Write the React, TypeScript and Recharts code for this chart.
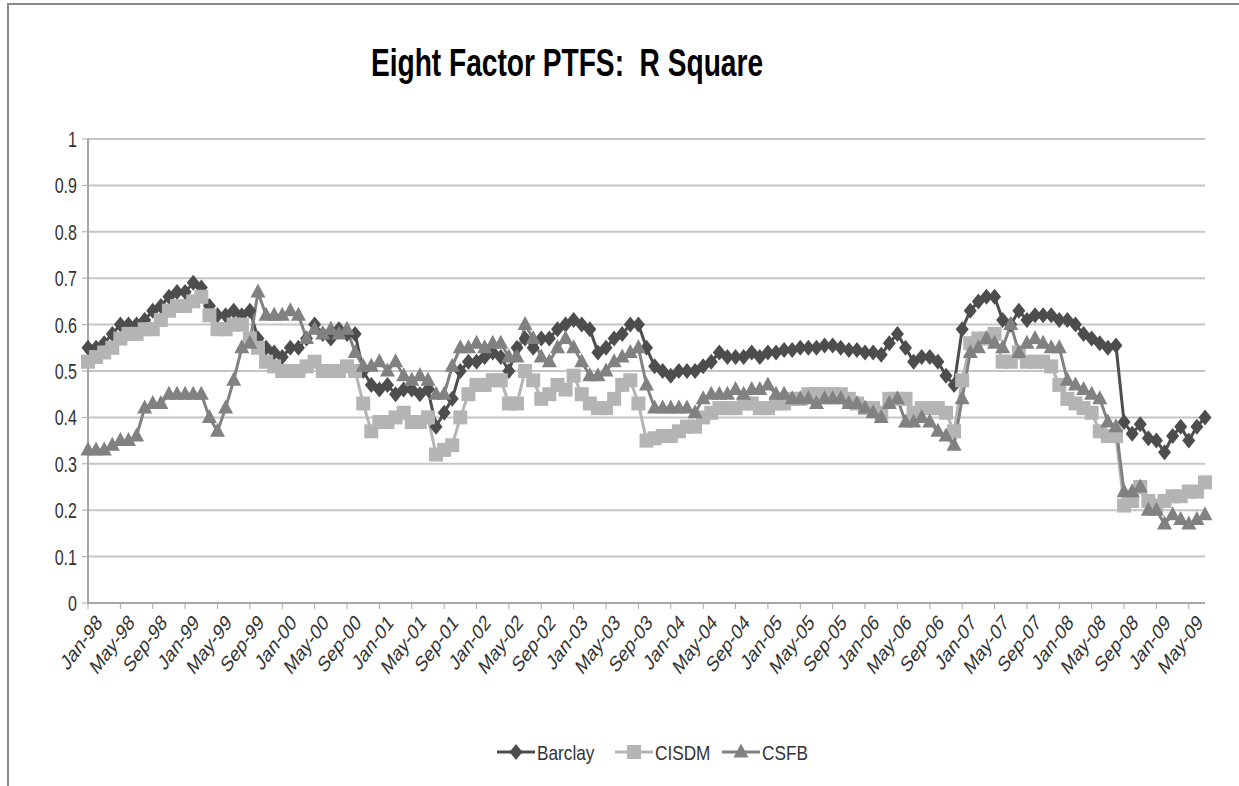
import React from 'react';
import { LineChart, Line, XAxis, YAxis, CartesianGrid } from 'recharts';

const monthNames = ['Jan', 'Feb', 'Mar', 'Apr', 'May', 'Jun', 'Jul', 'Aug', 'Sep', 'Oct', 'Nov', 'Dec'];
const yearLabels = ['98', '99', '00', '01', '02', '03', '04', '05', '06', '07', '08', '09'];
const monthCount = 139;

const categories: string[] = [];
yearLabels.forEach((y) => monthNames.forEach((m) => categories.push(`${m}-${y}`)));
categories.length = monthCount;

const barclay = [
  0.55, 0.55, 0.56, 0.58, 0.60, 0.60, 0.60, 0.61, 0.63, 0.64, 0.66, 0.67,
  0.67, 0.69, 0.68, 0.64, 0.62, 0.62, 0.63, 0.62, 0.63, 0.57, 0.55, 0.54,
  0.53, 0.55, 0.55, 0.57, 0.60, 0.58, 0.57, 0.59, 0.58, 0.58, 0.50, 0.47,
  0.46, 0.47, 0.45, 0.46, 0.46, 0.45, 0.46, 0.38, 0.41, 0.44, 0.50, 0.52,
  0.52, 0.53, 0.54, 0.53, 0.50, 0.55, 0.57, 0.55, 0.57, 0.57, 0.59, 0.60,
  0.61, 0.60, 0.59, 0.54, 0.55, 0.57, 0.58, 0.60, 0.60, 0.55, 0.51, 0.50,
  0.49, 0.50, 0.50, 0.50, 0.51, 0.52, 0.54, 0.53, 0.53, 0.53, 0.54, 0.53,
  0.54, 0.54, 0.545, 0.545, 0.55, 0.55, 0.55, 0.555, 0.555, 0.55, 0.545, 0.545,
  0.54, 0.54, 0.535, 0.56, 0.58, 0.55, 0.52, 0.53, 0.53, 0.52, 0.49, 0.47,
  0.59, 0.63, 0.65, 0.66, 0.66, 0.61, 0.60, 0.63, 0.61, 0.62, 0.62, 0.62,
  0.61, 0.61, 0.60, 0.58, 0.57, 0.56, 0.55, 0.555, 0.39, 0.365, 0.385, 0.355,
  0.35, 0.325, 0.36, 0.38, 0.35, 0.38, 0.40,
];

const cisdm = [
  0.52, 0.53, 0.54, 0.55, 0.57, 0.58, 0.58, 0.59, 0.59, 0.61, 0.63, 0.64,
  0.64, 0.65, 0.66, 0.62, 0.59, 0.59, 0.60, 0.60, 0.57, 0.55, 0.52, 0.51,
  0.50, 0.50, 0.50, 0.51, 0.52, 0.50, 0.50, 0.50, 0.51, 0.50, 0.43, 0.37,
  0.39, 0.39, 0.40, 0.41, 0.39, 0.39, 0.40, 0.32, 0.33, 0.34, 0.40, 0.45,
  0.47, 0.47, 0.48, 0.48, 0.43, 0.43, 0.50, 0.48, 0.44, 0.45, 0.47, 0.46,
  0.49, 0.45, 0.43, 0.42, 0.42, 0.44, 0.47, 0.48, 0.43, 0.35, 0.355, 0.36,
  0.36, 0.37, 0.38, 0.38, 0.40, 0.41, 0.42, 0.42, 0.42, 0.43, 0.43, 0.42,
  0.42, 0.43, 0.43, 0.44, 0.44, 0.45, 0.45, 0.45, 0.45, 0.45, 0.44, 0.43,
  0.42, 0.42, 0.41, 0.44, 0.44, 0.44, 0.41, 0.42, 0.42, 0.42, 0.41, 0.37,
  0.48, 0.56, 0.57, 0.57, 0.58, 0.52, 0.52, 0.54, 0.52, 0.52, 0.52, 0.51,
  0.47, 0.44, 0.43, 0.42, 0.41, 0.37, 0.36, 0.36, 0.21, 0.22, 0.25, 0.22,
  0.21, 0.22, 0.23, 0.23, 0.24, 0.24, 0.26,
];

const csfb = [
  0.33, 0.33, 0.33, 0.34, 0.35, 0.35, 0.36, 0.42, 0.43, 0.43, 0.45, 0.45,
  0.45, 0.45, 0.45, 0.40, 0.37, 0.42, 0.48, 0.55, 0.56, 0.67, 0.62, 0.62,
  0.62, 0.63, 0.62, 0.57, 0.59, 0.58, 0.59, 0.58, 0.59, 0.54, 0.51, 0.51,
  0.52, 0.50, 0.52, 0.49, 0.48, 0.49, 0.48, 0.45, 0.45, 0.51, 0.55, 0.55,
  0.56, 0.55, 0.56, 0.56, 0.53, 0.53, 0.60, 0.57, 0.53, 0.52, 0.55, 0.57,
  0.55, 0.52, 0.49, 0.49, 0.50, 0.52, 0.53, 0.54, 0.55, 0.47, 0.42, 0.42,
  0.42, 0.42, 0.42, 0.41, 0.44, 0.45, 0.45, 0.45, 0.46, 0.45, 0.46, 0.46,
  0.47, 0.45, 0.45, 0.44, 0.44, 0.44, 0.43, 0.44, 0.44, 0.44, 0.43, 0.43,
  0.42, 0.41, 0.40, 0.43, 0.44, 0.39, 0.39, 0.40, 0.39, 0.37, 0.36, 0.34,
  0.44, 0.54, 0.55, 0.57, 0.56, 0.55, 0.60, 0.54, 0.56, 0.57, 0.56, 0.55,
  0.55, 0.48, 0.47, 0.46, 0.45, 0.44, 0.39, 0.38, 0.24, 0.24, 0.25, 0.20,
  0.20, 0.17, 0.19, 0.18, 0.17, 0.18, 0.19,
];

const yTicks = [0, 0.1, 0.2, 0.3, 0.4, 0.5, 0.6, 0.7, 0.8, 0.9, 1];

const data = categories.map((c, i) => ({
  month: c,
  Barclay: barclay[i],
  CISDM: cisdm[i],
  CSFB: csfb[i],
}));

const FONT = "'Liberation Sans', Arial, sans-serif";
const TEXT = '#333';
const C_BARCLAY = '#4d4d4d';
const C_CISDM = '#b4b4b4';
const C_CSFB = '#818181';
const SQUEEZE = 0.75;

const Diamond = (props: any) => {
  const { cx, cy, fill } = props;
  if (cx == null || cy == null) return null;
  return <polygon points={`${cx},${cy - 8} ${cx + 6.5},${cy} ${cx},${cy + 8} ${cx - 6.5},${cy}`} fill={fill} />;
};
const Square = (props: any) => {
  const { cx, cy, fill } = props;
  if (cx == null || cy == null) return null;
  return <rect x={cx - 7} y={cy - 7} width={14} height={14} fill={fill} />;
};
const Triangle = (props: any) => {
  const { cx, cy, fill } = props;
  if (cx == null || cy == null) return null;
  return <polygon points={`${cx},${cy - 8.5} ${cx + 7.5},${cy + 5.5} ${cx - 7.5},${cy + 5.5}`} fill={fill} />;
};

const XTick = (props: any) => {
  const { x, y, payload } = props;
  return (
    <g transform={`translate(${x + 7} ${y + 2}) scale(${SQUEEZE} 1) rotate(-45)`}>
      <text x={0} y={0} dy="0.7em" textAnchor="end" fontFamily={FONT} fontSize={22} fill={TEXT}>
        {payload.value}
      </text>
    </g>
  );
};

const YTick = (props: any) => {
  const { x, y, payload } = props;
  return (
    <g transform={`translate(${x - 3} ${y}) scale(0.73 1)`}>
      <text x={0} y={0} dy="0.36em" textAnchor="end" fontFamily={FONT} fontSize={22} fill={TEXT}>
        {String(Math.round(payload.value * 10) / 10)}
      </text>
    </g>
  );
};

const legendItems = [
  { name: 'Barclay', color: C_BARCLAY, kind: 'diamond', left: 497 },
  { name: 'CISDM', color: C_CISDM, kind: 'square', left: 615 },
  { name: 'CSFB', color: C_CSFB, kind: 'triangle', left: 722 },
];

const LegendBox = () => (
  <svg width={1239} height={40} style={{ position: 'absolute', left: 0, top: 732 }}>
    {legendItems.map((it) => (
      <g key={it.name} transform={`translate(${it.left} 20)`}>
        <line x1={0} y1={0} x2={38} y2={0} stroke={it.color} strokeWidth={3} />
        {it.kind === 'diamond' && <Diamond cx={19} cy={0} fill={it.color} />}
        {it.kind === 'square' && <Square cx={19} cy={0} fill={it.color} />}
        {it.kind === 'triangle' && <Triangle cx={19} cy={0} fill={it.color} />}
        <g transform={`translate(40 0) scale(0.82 1)`}>
          <text x={0} y={0} dy="0.36em" fontFamily={FONT} fontSize={21} fill={TEXT}>
            {it.name}
          </text>
        </g>
      </g>
    ))}
  </svg>
);

export default function App() {
  return (
    <div style={{ position: 'absolute', left: 0, top: 0, width: 1239, height: 786, background: '#fff', overflow: 'hidden' }}>
      <div
        style={{
          position: 'absolute',
          left: 7,
          top: 3,
          width: 1300,
          height: 800,
          borderTop: '2px solid #8a8a8a',
          borderLeft: '2px solid #8a8a8a',
          boxSizing: 'border-box',
        }}
      />
      <div
        style={{
          position: 'absolute',
          left: 0,
          width: 1134,
          top: 42,
          textAlign: 'center',
          fontFamily: FONT,
          fontWeight: 'bold',
          fontSize: 38,
          color: '#000',
          whiteSpace: 'pre',
          transform: 'scaleX(0.74)',
          transformOrigin: '567px 0',
        }}
      >
        {'Eight Factor PTFS:  R Square'}
      </div>
      <div style={{ position: 'absolute', left: 0, top: 0 }}>
        <LineChart width={1239} height={786} data={data} margin={{ top: 139, right: 34, bottom: 113, left: 8 }}>
          <CartesianGrid vertical={false} stroke="#c4c4c4" strokeWidth={2} />
          <XAxis
            dataKey="month"
            interval={3}
            height={70}
            tick={<XTick />}
            tickSize={6}
            axisLine={{ stroke: '#a6a6a6', strokeWidth: 2 }}
            tickLine={{ stroke: '#a6a6a6' }}
            padding={{ left: 0, right: 0 }}
          />
          <YAxis
            width={80}
            domain={[0, 1]}
            ticks={yTicks}
            tick={<YTick />}
            tickSize={6}
            axisLine={{ stroke: '#a6a6a6', strokeWidth: 2 }}
            tickLine={{ stroke: '#a6a6a6' }}
          />
          <Line
            dataKey="Barclay"
            stroke={C_BARCLAY}
            strokeWidth={3}
            dot={(p: any) => <Diamond key={`b${p.index}`} cx={p.cx} cy={p.cy} fill={C_BARCLAY} />}
            isAnimationActive={false}
          />
          <Line
            dataKey="CISDM"
            stroke={C_CISDM}
            strokeWidth={3}
            dot={(p: any) => <Square key={`c${p.index}`} cx={p.cx} cy={p.cy} fill={C_CISDM} />}
            isAnimationActive={false}
          />
          <Line
            dataKey="CSFB"
            stroke={C_CSFB}
            strokeWidth={3}
            dot={(p: any) => <Triangle key={`f${p.index}`} cx={p.cx} cy={p.cy} fill={C_CSFB} />}
            isAnimationActive={false}
          />
        </LineChart>
      </div>
      <LegendBox />
    </div>
  );
}
